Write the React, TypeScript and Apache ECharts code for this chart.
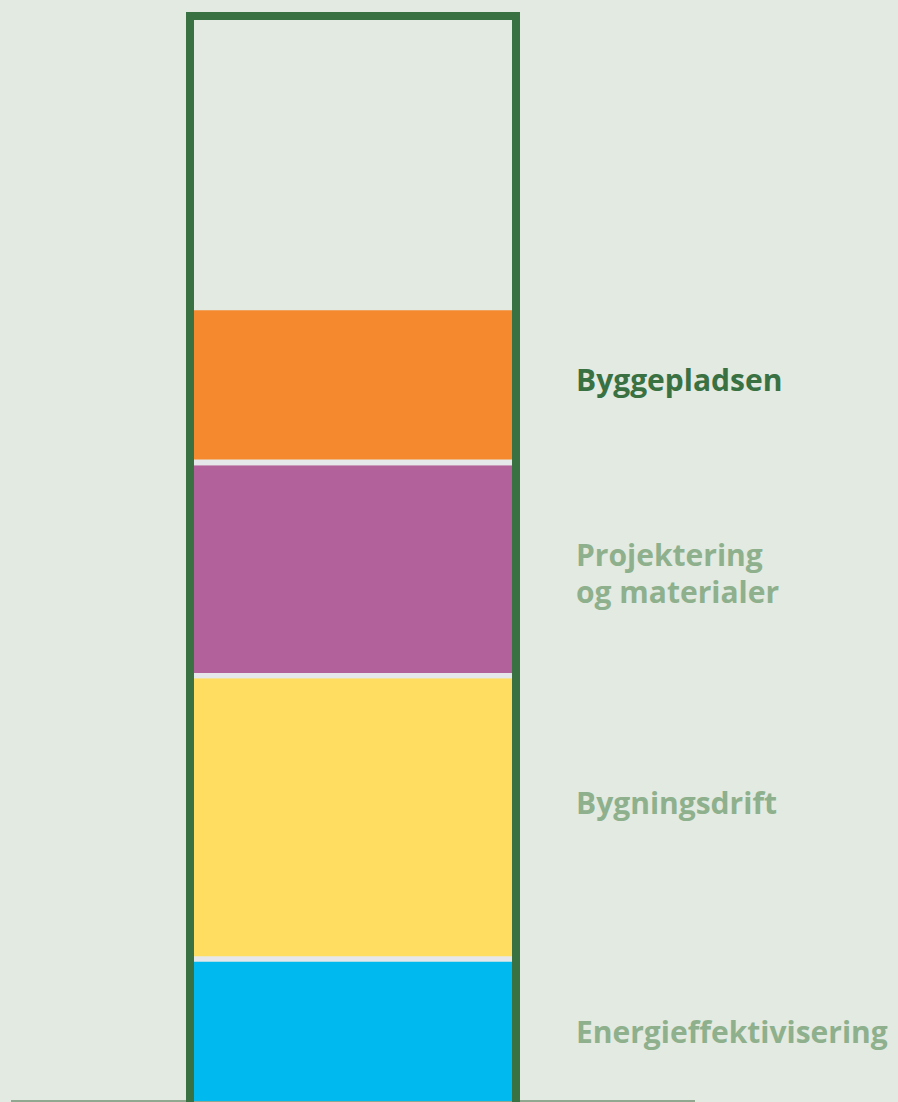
import React, { useEffect, useRef } from "react";
import * as echarts from "echarts";

const categories = ["Energieffektivisering", "Bygningsdrift", "Projektering\nog materialer", "Byggepladsen"];
const values = [12.9, 25.7, 19.2, 13.8];
const separators = [0.5, 0.5, 0.55];
const colors = ["#00b9ef", "#fedd60", "#b3619a", "#f4892e"];
const labelColors = ["#8eb08c", "#8eb08c", "#8eb08c", "#3a7142"];
const labelOffsets = [0, -15, 4, -5];
const axisMax = 100;

export default function App() {
  const ref = useRef<HTMLDivElement>(null);
  useEffect(() => {
    document.body.style.margin = "0";
    document.body.style.background = "#e2eae1";
    const chart = echarts.init(ref.current!, null, { renderer: "svg" });
    const series: any[] = [];
    categories.forEach((name, i) => {
      series.push({
        name,
        type: "bar",
        stack: "total",
        barWidth: "100%",
        data: [values[i]],
        itemStyle: { color: colors[i] },
        label: {
          show: true,
          position: "right",
          distance: 64,
          offset: [0, labelOffsets[i]],
          formatter: name,
          color: labelColors[i],
          fontFamily: "Open Sans",
          fontWeight: "bold",
          fontSize: 30,
          lineHeight: 37,
          align: "left",
        },
        z: 3,
      });
      if (i < separators.length) {
        series.push({
          name: "sep" + i,
          type: "bar",
          stack: "total",
          barWidth: "100%",
          data: [separators[i]],
          itemStyle: { color: "#e6e7ea" },
          z: 3,
        });
      }
    });
    chart.setOption({
      animation: false,
      backgroundColor: "#e2eae1",
      grid: { left: 194, width: 318, top: 20, bottom: 1, containLabel: false },
      xAxis: {
        type: "category",
        data: ["total"],
        show: false,
      },
      yAxis: {
        type: "value",
        min: 0,
        max: axisMax,
        show: false,
      },
      series,
      graphic: [
        {
          type: "rect",
          shape: { x: 190, y: 16, width: 326, height: 1200 },
          style: { fill: "none", stroke: "#3a7142", lineWidth: 8 },
          z: 10,
        },
        {
          type: "line",
          shape: { x1: 11, y1: 1101, x2: 695, y2: 1101 },
          style: { stroke: "#8fa88f", lineWidth: 2 },
          z: 1,
        },
      ],
    });
    return () => chart.dispose();
  }, []);
  return (
    <div
      ref={ref}
      style={{ position: "absolute", left: 0, top: 0, width: 898, height: 1102 }}
    />
  );
}
